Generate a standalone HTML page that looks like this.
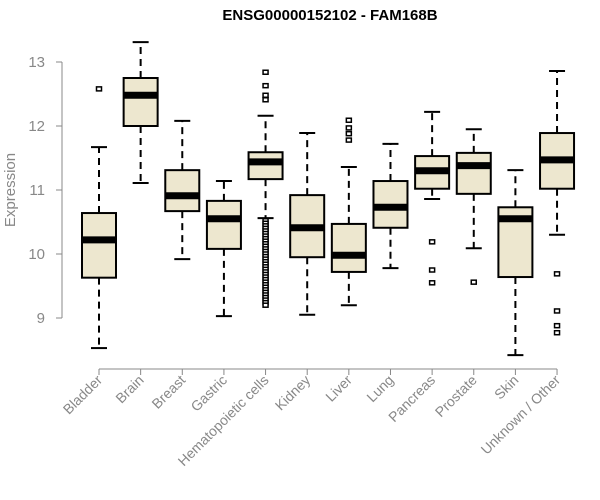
<!DOCTYPE html>
<html><head><meta charset="utf-8"><style>
body{margin:0;background:#fff}
svg{display:block;font-family:"Liberation Sans",Arial,sans-serif}
</style></head><body>
<svg id="chart" width="600" height="500">
<text x="330" y="20" text-anchor="middle" font-weight="bold" font-size="15">ENSG00000152102 - FAM168B</text>
<text transform="translate(15,190) rotate(-90)" text-anchor="middle" font-size="15" fill="#888">Expression</text>
<g id="g"></g>
</svg>
<script>
const categories=["Bladder","Brain","Breast","Gastric","Hematopoietic cells","Kidney","Liver","Lung","Pancreas","Prostate","Skin","Unknown / Other"];
const lowWhisker=[8.53,11.11,9.92,9.03,10.56,9.05,9.2,9.78,10.86,10.09,8.42,10.3];
const q1=[9.63,12.0,10.67,10.08,11.17,9.95,9.72,10.41,11.02,10.94,9.64,11.02];
const median=[10.22,12.48,10.91,10.55,11.44,10.41,9.98,10.73,11.3,11.38,10.55,11.47];
const q3=[10.64,12.75,11.31,10.83,11.59,10.92,10.47,11.14,11.53,11.58,10.73,11.89];
const highWhisker=[11.67,13.31,12.08,11.14,12.16,11.89,11.36,11.72,12.22,11.95,11.31,12.86];
const outliers=[[12.58],[],[],[],[12.41,12.48,12.63,12.84,10.52,10.48,10.44,10.4,10.36,10.32,10.28,10.24,10.2,10.16,10.12,10.08,10.04,10.0,9.96,9.92,9.88,9.84,9.8,9.76,9.72,9.68,9.64,9.6,9.56,9.52,9.48,9.44,9.4,9.36,9.32,9.28,9.24,9.2],[],[12.09,11.97,11.88,11.78],[],[10.19,9.75,9.55],[9.56],[],[9.69,9.11,8.88,8.77]];
const yTicks=[9,10,11,12,13];
const NS="http://www.w3.org/2000/svg";
const g=document.getElementById('g');
const y=v=>318-(v-9)*64;
const x=i=>99+i*41.64;
function el(t,a){const e=document.createElementNS(NS,t);for(const k in a)e.setAttribute(k,a[k]);g.appendChild(e);return e;}
let ax=el('line',{x1:62,x2:62,y1:y(13),y2:y(9),stroke:'#888'});


yTicks.forEach(t=>{
 let tk=el('line',{x1:56,x2:62,y1:y(t),y2:y(t),stroke:'#888'});
 
 
 let tl=el('text',{x:45,y:y(t)+5,'text-anchor':'end','font-size':15,fill:'#888'});
 tl.textContent=t;
 
 
});
let xa=el('line',{x1:x(0),x2:x(11),y1:369,y2:369,stroke:'#888'});


categories.forEach((c,i)=>{
 const cx=x(i),w=17;
 let tk=el('line',{x1:cx,x2:cx,y1:369,y2:375,stroke:'#888'});
 
 
 let lb=el('text',{transform:`translate(${cx+4},${381}) rotate(-45)`,'text-anchor':'end','font-size':14,fill:'#888'});
 lb.textContent=c;
 
 
 let wl=el('line',{x1:cx,x2:cx,y1:y(q1[i]),y2:y(lowWhisker[i]),stroke:'#000','stroke-width':2,'stroke-dasharray':'7,5'});
 
 
 let wh=el('line',{x1:cx,x2:cx,y1:y(q3[i]),y2:y(highWhisker[i]),stroke:'#000','stroke-width':2,'stroke-dasharray':'7,5'});
 
 
 [lowWhisker[i],highWhisker[i]].forEach(v=>{
  let cap=el('line',{x1:cx-8,x2:cx+8,y1:y(v),y2:y(v),stroke:'#000','stroke-width':2});
  
  
 });
 let bx=el('rect',{x:cx-w,y:y(q3[i]),width:2*w,height:y(q1[i])-y(q3[i]),fill:'#ede7cf',stroke:'#000','stroke-width':2});
 
 
 let md=el('line',{x1:cx-w,x2:cx+w,y1:y(median[i]),y2:y(median[i]),stroke:'#000','stroke-width':7});
 
 
 outliers[i].forEach(v=>{
  let o=el('rect',{x:cx-2.5,y:y(v)-2,width:5,height:4,fill:'#fff',stroke:'#000','stroke-width':1.5});
  
  
 });
});
</script>
</body></html>
